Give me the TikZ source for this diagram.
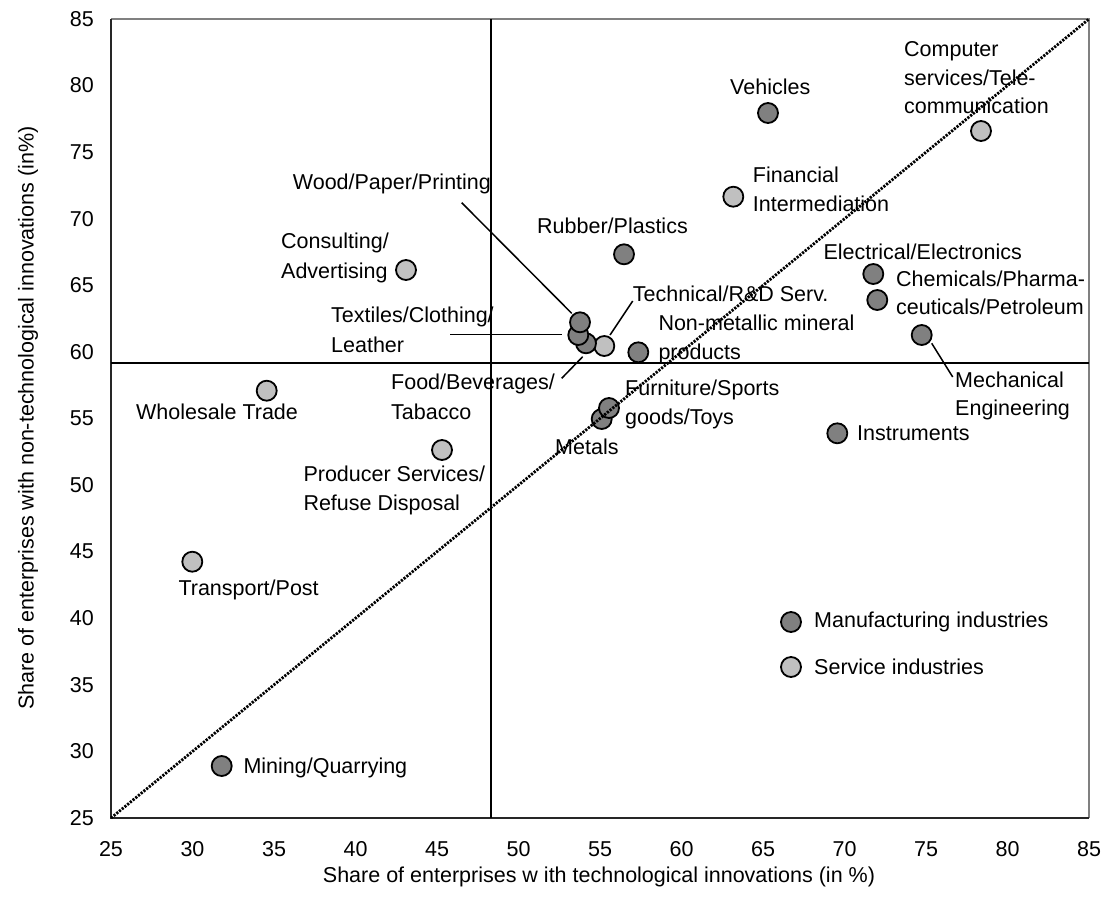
\documentclass[tikz,border=0pt]{standalone}
\usepackage{fontspec}
\setmainfont{Liberation Sans}
\definecolor{mfgc}{HTML}{808080}
\definecolor{srvc}{HTML}{C0C0C0}
\begin{document}
\begin{tikzpicture}[x=1pt,y=-1pt,
  lab/.style={anchor=base west,inner sep=0pt,font=\fontsize{21.5}{29}\selectfont},
  ticklab/.style={inner sep=0pt,font=\fontsize{21.5}{25}\selectfont},
  dotbase/.style={circle,draw=black,line width=1.8pt,minimum size=20pt,inner sep=0pt},
  mfg/.style={dotbase,fill=mfgc},
  srv/.style={dotbase,fill=srvc},
  leader/.style={line width=1.5pt,black},
  quad/.style={line width=2pt,black},
  diag/.style={line width=2.8pt,black,dash pattern=on 2.2pt off 1.3pt}]
\useasboundingbox (0,0) rectangle (1105,903);
\fill[white] (0,0) rectangle (1105,903);
% plot box
\coordinate (tl) at (111,19);
\coordinate (tr) at (1089,19);
\coordinate (bl) at (111,818);
\coordinate (br) at (1089,818);
\draw[line width=1.3pt,mfgc] (tl) -- (tr) -- (br);
\draw[line width=1.3pt,black!85] (tl) -- (bl) -- (br);
% tick labels
\foreach \v [count=\i from 0] in {85,80,75,70,65,60,55,50,45,40,35,30,25}
  \node[ticklab,anchor=east] (yt\i) at (94,{19+\i*66.58}) {\v};
\foreach \v [count=\i from 0] in {25,30,35,40,45,50,55,60,65,70,75,80,85}
  \node[ticklab,anchor=center] (xt\i) at ({111+\i*81.5},849) {\v};
% axis titles
\node[ticklab,rotate=90,anchor=center] (ytitle) at (28,418) {Share of enterprises with non-technological innovations (in\%)};
\node[ticklab,anchor=center] (xtitle) at (599,877) {Share of enterprises w ith technological innovations (in \%)};
% labels
\node[lab] (lveh) at (730,94) {Vehicles};
\node[lab] (lcomp1) at (904,56) {Computer};
\node[lab] (lcomp2) at (904,85) {services/Tele-};
\node[lab] (lcomp3) at (904,113) {communication};
\node[lab] (lfin1) at (752.7,182) {Financial};
\node[lab] (lfin2) at (752.7,211) {Intermediation};
\node[lab] (lrub) at (537,233.5) {Rubber/Plastics};
\node[lab] (lwood) at (292.7,189) {Wood/Paper/Printing};
\node[lab] (lcons1) at (281,248.5) {Consulting/};
\node[lab] (lcons2) at (281,278.5) {Advertising};
\node[lab] (lelec) at (823.3,259) {Electrical/Electronics};
\node[lab] (lchem1) at (896,286) {Chemicals/Pharma-};
\node[lab] (lchem2) at (896,314.5) {ceuticals/Petroleum};
\node[lab] (ltech) at (632.7,301) {Technical/R\&D Serv.};
\node[lab] (lnon1) at (658.3,330.5) {Non-metallic mineral};
\node[lab] (lnon2) at (658.3,359) {products};
\node[lab] (ltex1) at (331,322.5) {Textiles/Clothing/};
\node[lab] (ltex2) at (331,352.5) {Leather};
\node[lab] (lfood1) at (391,389) {Food/Beverages/};
\node[lab] (lfood2) at (391,419) {Tabacco};
\node[lab] (lwhole) at (136,419.5) {Wholesale Trade};
\node[lab] (lfur1) at (625,395) {Furniture/Sports};
\node[lab] (lfur2) at (625,424.5) {goods/Toys};
\node[lab] (lmet) at (555,454.5) {Metals};
\node[lab] (lmech1) at (955,387.5) {Mechanical};
\node[lab] (lmech2) at (955,415.5) {Engineering};
\node[lab] (linst) at (857,440.5) {Instruments};
\node[lab] (lprod1) at (303.3,481.5) {Producer Services/};
\node[lab] (lprod2) at (303.3,510.5) {Refuse Disposal};
\node[lab] (ltrans) at (178.3,595.5) {Transport/Post};
\node[lab] (lmin) at (243.3,773.5) {Mining/Quarrying};
\node[lab] (lmfg) at (814,627.5) {Manufacturing industries};
\node[lab] (lsrv) at (814,674.5) {Service industries};
% leader lines
\coordinate (woodA) at (461.7,202.7);
\coordinate (woodB) at (571.7,313.3);
\coordinate (texA) at (450,334.5);
\coordinate (texB) at (561.7,334.5);
\coordinate (foodA) at (561.7,378.3);
\coordinate (foodB) at (582.7,356.7);
\coordinate (techA) at (610,335);
\coordinate (techB) at (632.7,301);
\coordinate (mechA) at (931.7,343.3);
\coordinate (mechB) at (952.7,377);
\draw[leader] (woodA) -- (woodB);
\draw[leader] (texA) -- (texB);
\draw[leader] (foodA) -- (foodB);
\draw[leader] (techA) -- (techB);
\draw[leader] (mechA) -- (mechB);
% data points
\node[mfg] (veh) at (768,113) {};
\node[srv] (comp) at (981,131) {};
\node[srv] (fin) at (733.3,196.7) {};
\node[mfg] (rub) at (624,254.3) {};
\node[srv] (cons) at (406,270) {};
\node[mfg] (elec) at (873.3,274) {};
\node[mfg] (chem) at (877.3,300) {};
\node[mfg] (mech) at (921.7,335) {};
\node[mfg] (inst) at (837.3,433.3) {};
\node[srv] (tech) at (604.3,346) {};
\node[mfg] (food) at (586,343.3) {};
\node[mfg] (tex) at (578.3,335) {};
\node[mfg] (wood) at (580,322.3) {};
\node[mfg] (nonmet) at (638.3,352.3) {};
\node[mfg] (met) at (601.7,419) {};
\node[mfg] (fur) at (609,408) {};
\node[srv] (whole) at (266.7,390.7) {};
\node[srv] (prod) at (442,450) {};
\node[srv] (trans) at (192.3,561.7) {};
\node[mfg] (mine) at (221.7,766) {};
\node[mfg] (legm) at (791,622) {};
\node[srv] (legs) at (791,667) {};
% quadrant lines
\coordinate (hL) at (111,363);
\coordinate (hR) at (1089,363);
\coordinate (vT) at (491,19);
\coordinate (vB) at (491,818);
\draw[quad] (hL) -- (hR);
\draw[quad] (vT) -- (vB);
% diagonal
\draw[diag] (bl) -- (tr);
\end{tikzpicture}
\end{document}
